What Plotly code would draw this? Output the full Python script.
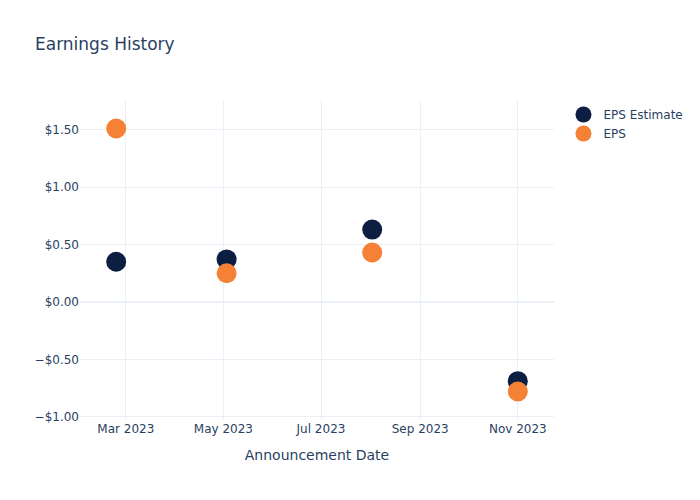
import plotly.graph_objects as go

dates = ["2023-02-23", "2023-05-03", "2023-08-02", "2023-11-01"]
eps_estimate = [0.35, 0.37, 0.63, -0.69]
eps_actual = [1.51, 0.25, 0.43, -0.78]

fig = go.Figure()
fig.add_trace(go.Scatter(x=dates, y=eps_estimate, mode="markers", name="EPS Estimate",
                         marker=dict(size=20, color="#0c1e42")))
fig.add_trace(go.Scatter(x=dates, y=eps_actual, mode="markers", name="EPS",
                         marker=dict(size=20, color="#f58136")))
fig.update_layout(
    width=700, height=500,
    font=dict(family="DejaVu Sans"),
    title=dict(text="Earnings History"),
    xaxis=dict(title=dict(text="Announcement Date")),
    yaxis=dict(tickformat="$.2f"),
    template="plotly_white",
)
fig.write_html("out.html")
